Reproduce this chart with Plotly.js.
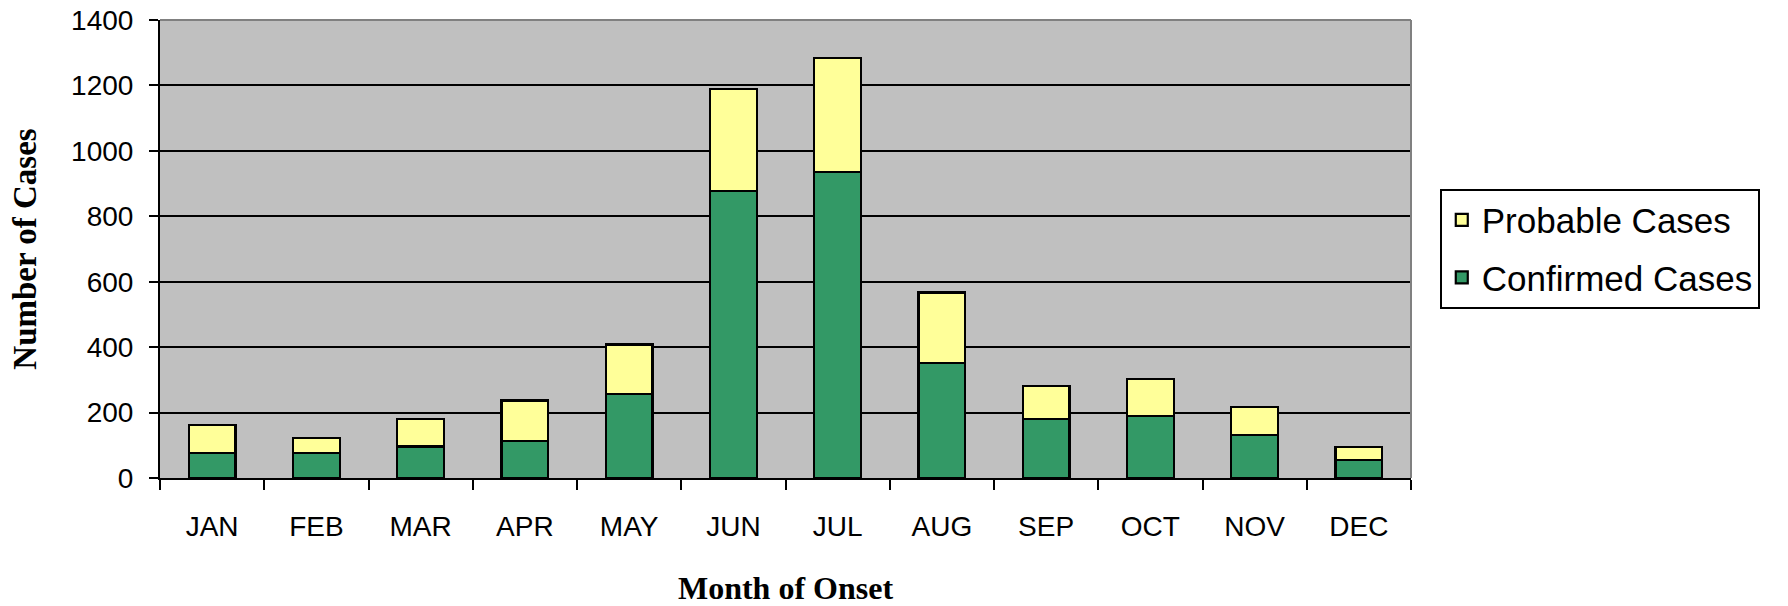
<!DOCTYPE html>
<html>
<head>
<meta charset="utf-8">
<script src="https://cdn.plot.ly/plotly-3.0.1.min.js"></script>
<style>
  html, body { margin: 0; padding: 0; background: #ffffff; }
  #chart { width: 1788px; height: 606px; }
</style>
</head>
<body>
<div id="chart"></div>
<script>
const months = ["JAN", "FEB", "MAR", "APR", "MAY", "JUN", "JUL", "AUG", "SEP", "OCT", "NOV", "DEC"];
const confirmedCases = [76, 76, 96, 114, 256, 878, 935, 351, 181, 190, 132, 55];
const probableCases = [86, 47, 84, 123, 152, 312, 350, 216, 101, 112, 84, 39];
const yTickValues = [0, 200, 400, 600, 800, 1000, 1200, 1400];

const sansFont = "Liberation Sans, Arial, sans-serif";
const serifFont = "Liberation Serif, Times New Roman, serif";

const traces = [
  {
    type: "bar",
    name: "Confirmed Cases",
    x: months,
    y: confirmedCases,
    legendgroup: "c",
    legendrank: 2,
    marker: { color: "#339966", line: { color: "#000000", width: 2.2 } },
    hoverinfo: "x+y+name"
  },
  {
    type: "bar",
    name: "Probable Cases",
    x: months,
    y: probableCases,
    legendgroup: "p",
    legendrank: 1,
    marker: { color: "#FFFF99", line: { color: "#000000", width: 2.2 } },
    hoverinfo: "x+y+name"
  }
];

const layout = {
  width: 1788,
  height: 606,
  margin: { l: 160, r: 377, t: 20, b: 128, pad: 0 },
  paper_bgcolor: "#ffffff",
  plot_bgcolor: "#C0C0C0",
  barmode: "stack",
  bargap: 0.55,
  showlegend: true,
  font: { family: sansFont, size: 28, color: "#000000" },
  xaxis: {
    type: "category",
    showgrid: false,
    zeroline: false,
    showline: true,
    linecolor: "#000000",
    linewidth: 2,
    ticks: "outside",
    tickson: "boundaries",
    ticklen: 10,
    tickwidth: 2,
    tickcolor: "#000000",
    ticklabelstandoff: 22,
    tickfont: { family: sansFont, size: 28, color: "#000000" },
    title: {
      text: "Month of Onset",
      font: { family: serifFont, size: 32, color: "#000000", weight: "bold" },
      standoff: 40
    },
    automargin: false
  },
  yaxis: {
    range: [0, 1400],
    tickvals: yTickValues,
    ticktext: yTickValues.map(String),
    showgrid: true,
    gridcolor: "#000000",
    gridwidth: 2,
    zeroline: false,
    showline: true,
    linecolor: "#000000",
    linewidth: 2,
    ticks: "outside",
    ticklen: 9,
    tickwidth: 2,
    tickcolor: "#000000",
    ticklabelstandoff: 10,
    tickfont: { family: sansFont, size: 28, color: "#000000" },
    title: {
      text: "Number of Cases",
      font: { family: serifFont, size: 33, color: "#000000", weight: "bold" },
      standoff: 25
    },
    automargin: false
  },
  legend: {
    x: 1.023,
    y: 0.632,
    xanchor: "left",
    yanchor: "top",
    traceorder: "grouped",
    tracegroupgap: 9,
    bgcolor: "#ffffff",
    bordercolor: "#000000",
    borderwidth: 2,
    font: { family: sansFont, size: 35, color: "#000000" }
  },
  shapes: [
    { type: "line", xref: "paper", yref: "paper", x0: 0, x1: 1, y0: 1, y1: 1,
      line: { color: "#808080", width: 2 }, layer: "above" },
    { type: "line", xref: "paper", yref: "paper", x0: 1, x1: 1, y0: 0, y1: 1,
      line: { color: "#808080", width: 2 }, layer: "above" }
  ]
};

Plotly.newPlot("chart", traces, layout, { displayModeBar: false, staticPlot: true });
</script>
</body>
</html>
